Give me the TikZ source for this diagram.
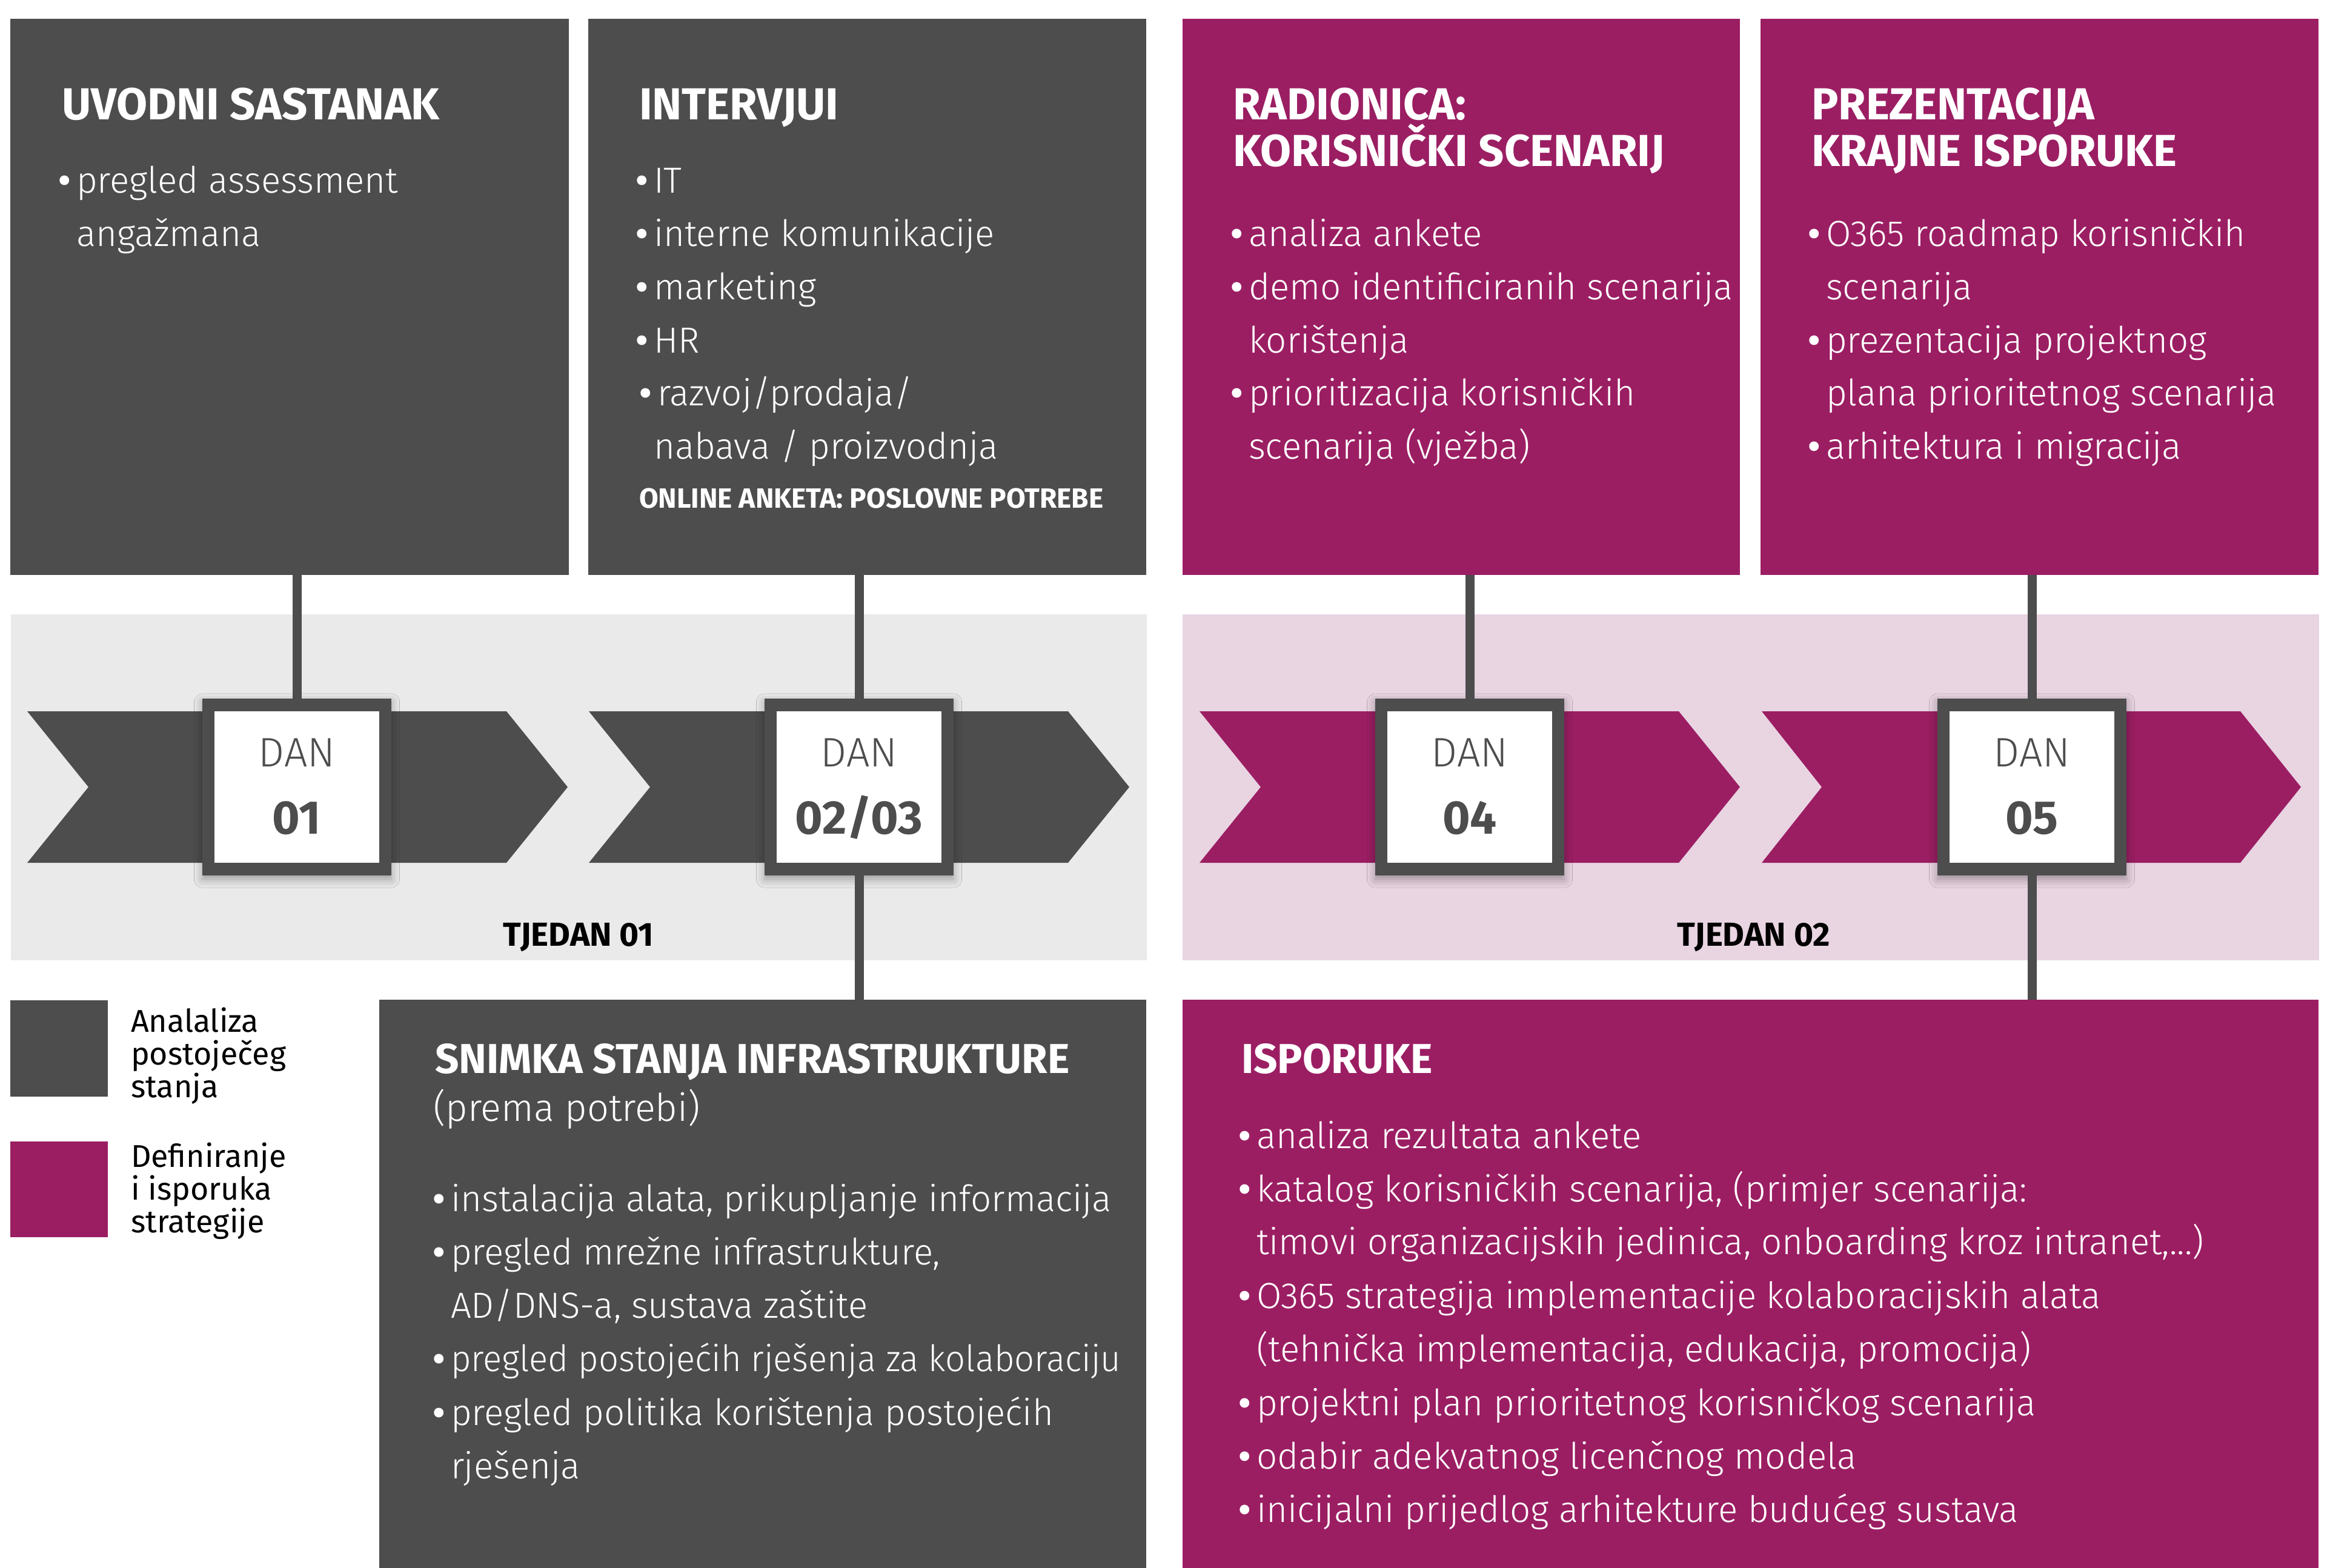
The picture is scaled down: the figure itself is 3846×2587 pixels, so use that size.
\documentclass[tikz,border=0pt]{standalone}
\usepackage{fontspec}
\usepackage{graphicx}
\setmainfont{Fira Sans Light}
\newfontfamily\fl{Fira Sans Light}
\newfontfamily\fr{Fira Sans}
\newfontfamily\fsb{Fira Sans SemiBold}
\newfontfamily\fb{Fira Sans Bold}
\usetikzlibrary{calc,shadows.blur}
\newdimen\pxu \pxu=0.01cm
\newcommand\fsz[1]{\fontsize{#1\pxu}{#1\pxu}\selectfont}
\newcommand\bul{\llap{{\fsb •}\kern 9\pxu}}
\definecolor{dk}{HTML}{4D4D4D}
\definecolor{mg}{HTML}{9B1E63}
\definecolor{lg}{HTML}{EAEAEA}
\definecolor{lp}{HTML}{E9D4E2}
\tikzset{
  panel/.style={anchor=north west, inner sep=0pt, outer sep=0pt},
  tx/.style={anchor=base west, inner sep=0pt, outer sep=0pt},
  body/.style={tx, text=white, font=\fl\fsz{60}},
  ttl/.style={tx, text=white, font=\fb\fsz{74}},
  ttlb/.style={tx, text=white, font=\fb\fsz{69}},
  small/.style={tx, text=white, font=\fb\fsz{46}},
  legtx/.style={tx, text=black, font=\fr\fsz{52}},
  week/.style={anchor=base, inner sep=0pt, text=black, font=\fb\fsz{55}},
  danA/.style={anchor=base, inner sep=0pt, text=dk, font=\fl\fsz{68}},
  danB/.style={anchor=base, inner sep=0pt, text=dk, font=\fb\fsz{78}},
  danbox/.style={fill=dk, inner sep=0pt, outer sep=0pt, minimum width=3.11cm, minimum height=2.92cm,
     blur shadow={shadow xshift=0pt, shadow yshift=-0.06cm, shadow blur radius=0.14cm, shadow opacity=35}},
  conn/.style={draw=dk, line width=0.15cm},
}
\begin{document}
\begin{tikzpicture}[x=0.01cm,y=-0.01cm]
\useasboundingbox (0,0) rectangle (3846,2587);
\fill[white] (0,0) rectangle (3846,2587);

% week bands
\node[panel, fill=lg, minimum width=18.74cm, minimum height=5.71cm] (g1) at (18,1014) {};
\node[panel, fill=lp, minimum width=18.75cm, minimum height=5.71cm] (g2) at (1952,1014) {};

% chevrons
\fill[dk] (45,1174) -- (836,1174) -- (937,1299) -- (836,1424) -- (45,1424) -- (146,1299) -- cycle;
\fill[dk] (972,1174) -- (1763,1174) -- (1864,1299) -- (1763,1424) -- (972,1424) -- (1073,1299) -- cycle;
\fill[mg] (1980,1174) -- (2771,1174) -- (2872,1299) -- (2771,1424) -- (1980,1424) -- (2081,1299) -- cycle;
\fill[mg] (2908,1174) -- (3698,1174) -- (3798,1299) -- (3698,1424) -- (2908,1424) -- (3007,1299) -- cycle;

% week labels
\node[week] (w1) at (955,1561) {TJEDAN 01};
\node[week] (w2) at (2895,1561) {TJEDAN 02};

% top panels
\node[panel, fill=dk, minimum width=9.21cm, minimum height=9.17cm] (t1) at (17,31) {};
\node[panel, fill=dk, minimum width=9.20cm, minimum height=9.17cm] (t2) at (971,31) {};
\node[panel, fill=mg, minimum width=9.19cm, minimum height=9.17cm] (t3) at (1952,31) {};
\node[panel, fill=mg, minimum width=9.20cm, minimum height=9.17cm] (t4) at (2906,31) {};

% bottom panels
\node[panel, fill=dk, minimum width=12.65cm, minimum height=9.37cm] (b1) at (626,1650) {};
\node[panel, fill=mg, minimum width=18.74cm, minimum height=9.37cm] (b2) at (1952,1650) {};

% day boxes
\node[danbox] (d1) at (490,1299) {};
\node[danbox] (d2) at (1418,1299) {};
\node[danbox] (d3) at (2426,1299) {};
\node[danbox] (d4) at (3354,1299) {};
\foreach \d in {d1,d2,d3,d4}{
  \fill[white] ($(\d.north west)+(20,21)$) rectangle ($(\d.south east)+(-20,-21)$);
}

% connectors
\draw[conn] (t1.south -| d1.north) -- (d1.north);
\draw[conn] (t2.south -| d2.north) -- (d2.north);
\draw[conn] (t3.south -| d3.north) -- (d3.north);
\draw[conn] (t4.south -| d4.north) -- (d4.north);
\draw[conn] (d2.south) -- (b1.north -| d2.south);
\draw[conn] (d4.south) -- (b2.north -| d4.south);

% day labels
\node[danA] (d1a) at (490,1265) {DAN};
\node[danB] (d1b) at (490,1376) {01};
\node[danA] (d2a) at (1418,1265) {DAN};
\node[danB] (d2b) at (1418,1376) {02/03};
\node[danA] (d3a) at (2426,1265) {DAN};
\node[danB] (d3b) at (2426,1376) {04};
\node[danA] (d4a) at (3354,1265) {DAN};
\node[danB] (d4b) at (3354,1376) {05};

% panel 1
\node[ttl] (t1h) at (102,197) {UVODNI SASTANAK};
\node[body] (t1a) at (126,318) {\bul pregled assessment};
\node[body] (t1b) at (126,406) {angažmana};

% panel 2
\node[ttl] (t2h) at (1055,197) {INTERVJUI};
\node[body] (t2a) at (1079,318) {\bul IT};
\node[body] (t2b) at (1079,406) {\bul interne komunikacije};
\node[body] (t2c) at (1079,494) {\bul marketing};
\node[body] (t2d) at (1079,582) {\bul HR};
\node[body] (t2e) at (1085,669) {\bul razvoj/prodaja/};
\node[body] (t2f) at (1079,757) {nabava / proizvodnja};
\node[small] (t2g) at (1055,838) {ONLINE ANKETA: POSLOVNE POTREBE};

% panel 3
\node[ttl] (t3h) at (2035,197) {RADIONICA:};
\node[ttl] (t3i) at (2035,274) {KORISNIČKI SCENARIJ};
\node[body] (t3a) at (2061,406) {\bul analiza ankete};
\node[body] (t3b) at (2061,494) {\bul demo identificiranih scenarija};
\node[body] (t3c) at (2061,582) {korištenja};
\node[body] (t3d) at (2061,669) {\bul prioritizacija korisničkih};
\node[body] (t3e) at (2061,757) {scenarija (vježba)};

% panel 4
\node[ttl] (t4h) at (2990,197) {PREZENTACIJA};
\node[ttl] (t4i) at (2990,274) {KRAJNE ISPORUKE};
\node[body] (t4a) at (3014,406) {\bul O365 roadmap korisničkih};
\node[body] (t4b) at (3014,494) {scenarija};
\node[body] (t4c) at (3014,582) {\bul prezentacija projektnog};
\node[body] (t4d) at (3014,669) {plana prioritetnog scenarija};
\node[body] (t4e) at (3014,757) {\bul arhitektura i migracija};

% bottom panel 1
\node[ttlb] (b1h) at (718,1771) {SNIMKA STANJA INFRASTRUKTURE};
\node[body, font=\fl\fsz{63}] (b1i) at (715,1850) {(prema potrebi)};
\node[body] (b1a) at (744,1999) {\bul instalacija alata, prikupljanje informacija};
\node[body] (b1b) at (744,2087) {\bul pregled mrežne infrastrukture,};
\node[body] (b1c) at (744,2175) {AD/DNS-a, sustava zaštite};
\node[body] (b1d) at (744,2263) {\bul\scalebox{0.965}[1]{pregled postojećih rješenja za kolaboraciju}};
\node[body] (b1e) at (744,2352) {\bul pregled politika korištenja postojećih};
\node[body] (b1f) at (744,2440) {rješenja};

% bottom panel 2
\node[ttlb] (b2h) at (2049,1771) {ISPORUKE};
\node[body] (b2a) at (2074,1895) {\bul analiza rezultata ankete};
\node[body] (b2b) at (2074,1983) {\bul katalog korisničkih scenarija, (primjer scenarija:};
\node[body] (b2c) at (2074,2070) {timovi organizacijskih jedinica, onboarding kroz intranet,...)};
\node[body] (b2d) at (2074,2159) {\bul O365 strategija implementacije kolaboracijskih alata};
\node[body] (b2e) at (2074,2247) {(tehnička implementacija, edukacija, promocija)};
\node[body] (b2f) at (2074,2336) {\bul projektni plan prioritetnog korisničkog scenarija};
\node[body] (b2g) at (2074,2424) {\bul odabir adekvatnog licenčnog modela};
\node[body] (b2h2) at (2074,2512) {\bul inicijalni prijedlog arhitekture budućeg sustava};

% legend
\node[panel, fill=dk, minimum width=1.61cm, minimum height=1.59cm] (l1) at (17,1651) {};
\node[panel, fill=mg, minimum width=1.61cm, minimum height=1.58cm] (l2) at (17,1884) {};
\node[legtx] (l1a) at (216,1703) {Analaliza};
\node[legtx] (l1b) at (216,1757) {postoječeg};
\node[legtx] (l1c) at (216,1811) {stanja};
\node[legtx] (l2a) at (216,1926) {Definiranje};
\node[legtx] (l2b) at (216,1980) {i isporuka};
\node[legtx] (l2c) at (216,2034) {strategije};
\end{tikzpicture}
\end{document}
